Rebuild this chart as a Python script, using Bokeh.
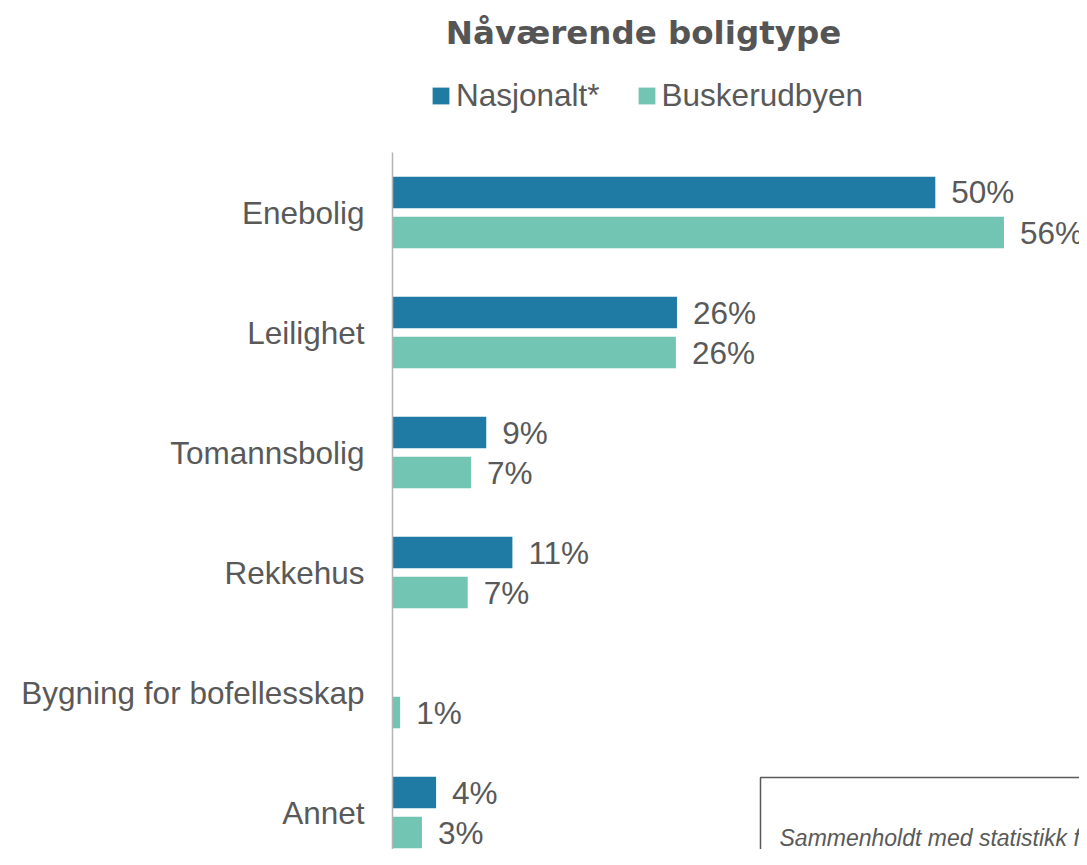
from bokeh.plotting import figure
from bokeh.layouts import column
from bokeh.models import (ColumnDataSource, Range1d, FixedTicker, Label, Legend,
                          LegendItem, BoxAnnotation)
from bokeh.core.properties import value
from bokeh.embed import file_html
from bokeh.resources import INLINE

# ---- data ----
categories = ["Enebolig", "Leilighet", "Tomannsbolig", "Rekkehus",
              "Bygning for bofellesskap", "Annet"]
nasjonalt = [49.8, 26.1, 8.6, 11.0, None, 4.0]
buskerudbyen = [56.1, 26.0, 7.2, 6.9, 0.7, 2.7]
series_names = ["Nasjonalt*", "Buskerudbyen"]
title_text = "Nåværende boligtype"
note_lines = ["Sammenholdt med statistikk fra",
              "høyere andel som sier at de bor"]

BLUE = "#1F7BA3"
GREEN = "#72C4B3"
GREY = "#595959"

W = 1079
HEAD_H = 152
MAIN_H = 697
LEFT = 392

pos = [i + 0.5 for i in range(len(categories))]
dodge = 0.1667
bar_h = 0.263

src_n = ColumnDataSource(dict(
    y=[y - dodge for y, v in zip(pos, nasjonalt) if v is not None],
    v=[v for v in nasjonalt if v is not None],
    t=["%d%%" % round(v) for v in nasjonalt if v is not None]))
src_b = ColumnDataSource(dict(
    y=[y + dodge for y, v in zip(pos, buskerudbyen) if v is not None],
    v=[v for v in buskerudbyen if v is not None],
    t=["%d%%" % round(v) for v in buskerudbyen if v is not None]))

# ---------------- header (title + legend) ----------------
head = figure(width=W, height=HEAD_H, output_backend="svg", toolbar_location=None,
              x_axis_location=None, y_axis_location=None,
              min_border_left=LEFT, min_border_right=0, min_border_top=0,
              min_border_bottom=0,
              x_range=Range1d(0, 63.03), y_range=Range1d(100, 101))
head.outline_line_color = None
head.xgrid.visible = False
head.ygrid.visible = False
head.add_layout(Label(x=643 - LEFT, y=120, x_units="screen", y_units="screen",
                      text=title_text, text_align="center",
                      text_baseline="alphabetic", text_font="DejaVu Sans",
                      text_font_style="bold", text_font_size="32.5px",
                      text_color="#555555"))
# legend proxies: same data, drawn outside the header's visible y-range
lr_n = head.hbar(y="y", right="v", left=0, height=bar_h, source=src_n,
                 fill_color=BLUE, line_color=None)
lr_b = head.hbar(y="y", right="v", left=0, height=bar_h, source=src_b,
                 fill_color=GREEN, line_color=None)
legend = Legend(items=[LegendItem(label=series_names[0], renderers=[lr_n]),
                       LegendItem(label=series_names[1], renderers=[lr_b])],
                location=(430 - LEFT, 38), orientation="horizontal",
                glyph_width=21, glyph_height=21, label_standoff=5,
                spacing=36, padding=0, margin=0,
                border_line_color=None, background_fill_alpha=0,
                label_text_font="Liberation Sans", label_text_font_size="31.5px",
                label_text_color=GREY)
head.add_layout(legend, "center")

# ---------------- main chart ----------------
p = figure(width=W, height=MAIN_H, output_backend="svg", toolbar_location=None,
           x_axis_location=None, min_border_left=LEFT, min_border_top=0,
           min_border_bottom=0, min_border_right=0)
p.x_range = Range1d(0, 63.03)
p.y_range = Range1d(5.808, 0)
p.outline_line_color = None
p.xgrid.visible = False
p.ygrid.visible = False

p.hbar(y="y", right="v", left=0, height=bar_h, source=src_n,
       fill_color=BLUE, line_color=None)
p.hbar(y="y", right="v", left=0, height=bar_h, source=src_b,
       fill_color=GREEN, line_color=None)

for src in (src_n, src_b):
    p.text(x="v", y="y", text="t", source=src, x_offset=16,
           text_align="left", text_baseline="middle",
           text_font=value("Liberation Sans"), text_font_size="31.5px",
           text_color=GREY)

ax = p.yaxis[0]
ax.ticker = FixedTicker(ticks=pos)
ax.major_label_overrides = {y: c for y, c in zip(pos, categories)}
ax.major_tick_line_color = None
ax.minor_tick_line_color = None
ax.major_tick_out = 0
ax.major_tick_in = 0
ax.major_label_standoff = 28
ax.axis_line_color = "#b4b4b4"
ax.axis_line_width = 1.5
ax.major_label_text_font = "Liberation Sans"
ax.major_label_text_font_size = "31.5px"
ax.major_label_text_color = GREY

# note box (cut by the page edge, as in the original)
p.add_layout(BoxAnnotation(left=368, right=2000, top=72, bottom=-300,
                           left_units="screen", right_units="screen",
                           top_units="screen", bottom_units="screen",
                           fill_alpha=0, line_color=GREY, line_alpha=1.0,
                           line_width=1.5))
for i, line in enumerate(note_lines):
    p.add_layout(Label(x=387, y=12 - 28 * i, x_units="screen", y_units="screen",
                       text=line, text_align="left", text_baseline="alphabetic",
                       text_font="Liberation Sans", text_font_style="italic",
                       text_font_size="23px", text_color=GREY))

layout = column(head, p, spacing=0)
open("out.html", "w").write(file_html(layout, INLINE))
